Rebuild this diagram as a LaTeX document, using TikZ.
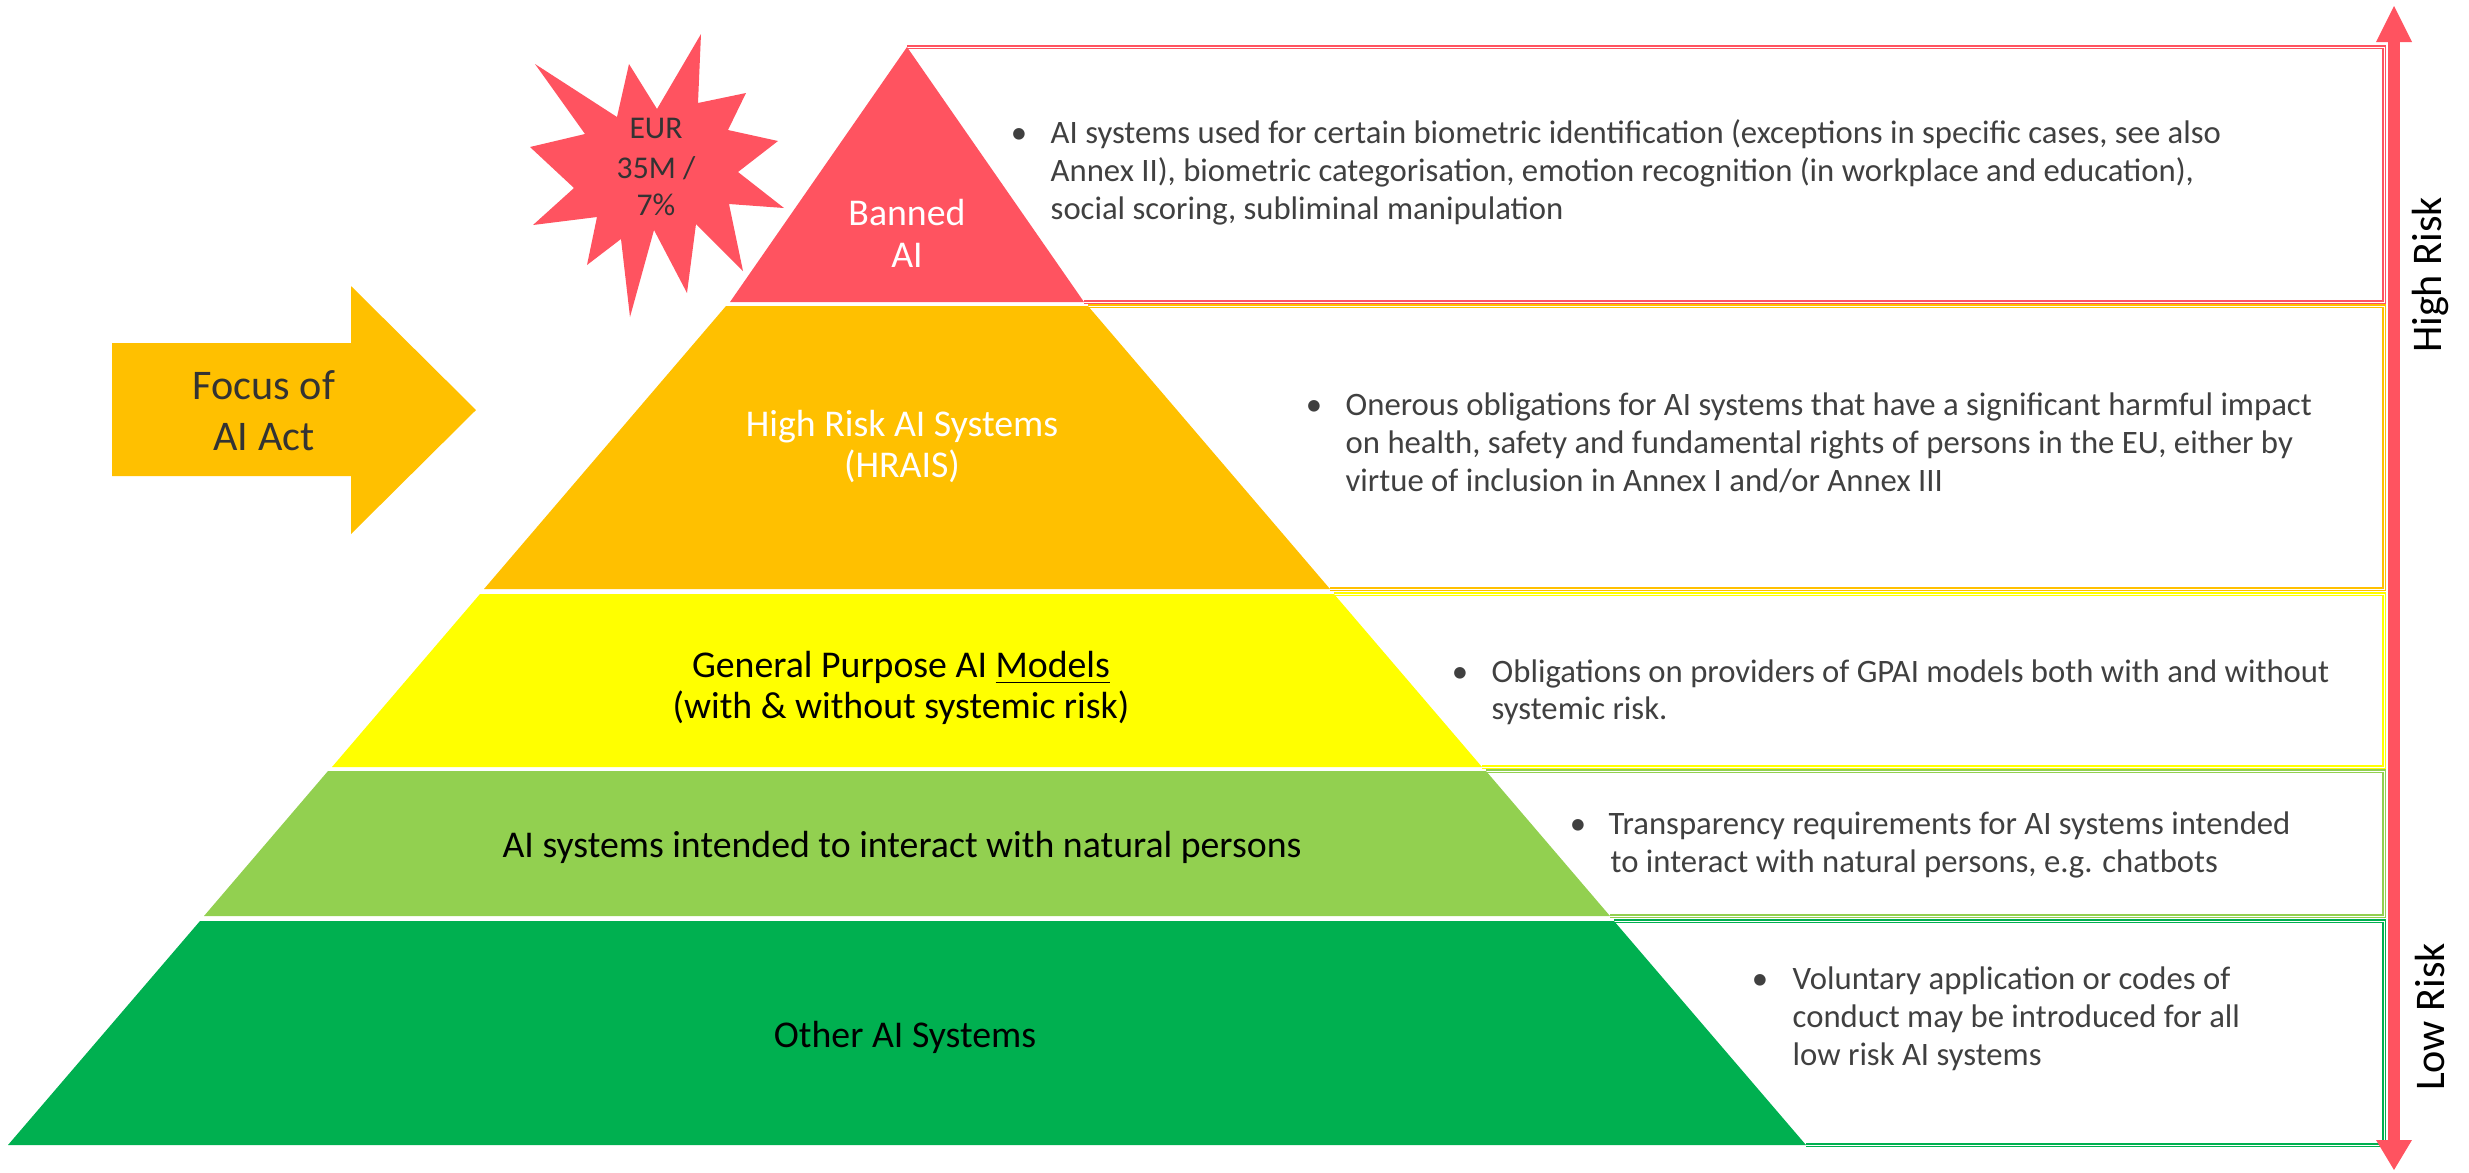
\documentclass[tikz,border=0pt]{standalone}
\usepackage{fontspec}
\setmainfont{Carlito}
\definecolor{tierred}{HTML}{FF5360}
\definecolor{tierorange}{HTML}{FFC000}
\definecolor{tieryellow}{HTML}{FFFF00}
\definecolor{tierlime}{HTML}{92D050}
\definecolor{tiergreen}{HTML}{00B050}
\definecolor{bodygray}{HTML}{404040}
\definecolor{darkink}{HTML}{333333}
\begin{document}
\begin{tikzpicture}[x=0.01cm,y=-0.01cm,
  tier/.style={fill=#1,draw=none},
  tierbox/.style={draw=#1,line width=0.45pt,double=white,double distance=0.15pt,line join=miter},
  bodytxt/.style={anchor=base west,inner sep=0pt,text=bodygray,font=\fontsize{9.3}{11}\selectfont},
  bullet/.style={anchor=base,inner sep=0pt,text=bodygray,font=\fontsize{9.3}{11}\selectfont},
  tierlabel/.style={anchor=base,inner sep=0pt,font=\fontsize{10.75}{12.9}\selectfont},
  bigtxt/.style={anchor=base,inner sep=0pt,font=\fontsize{12}{14}\selectfont},
  startxt/.style={anchor=base,inner sep=0pt,text=darkink,font=\fontsize{9}{11}\selectfont},
  risktxt/.style={inner sep=0pt,rotate=90,font=\fontsize{12}{14}\selectfont}]
\useasboundingbox (0,0) rectangle (2469,1172);

% pyramid corner points
\coordinate (apex) at (907,47);
\coordinate (rL) at (730,302);   \coordinate (rR) at (1084,302);
\coordinate (oTL) at (726,306);  \coordinate (oTR) at (1088,306);
\coordinate (oBL) at (484,589);  \coordinate (oBR) at (1330,589);
\coordinate (yTL) at (480,594);  \coordinate (yTR) at (1334,594);
\coordinate (yBL) at (332,767);  \coordinate (yBR) at (1482,767);
\coordinate (lTL) at (328,771);  \coordinate (lTR) at (1486,771);
\coordinate (lBL) at (204,916);  \coordinate (lBR) at (1610,916);
\coordinate (gTL) at (200,921);  \coordinate (gTR) at (1614,921);
\coordinate (gBL) at (8,1145);   \coordinate (gBR) at (1806,1145);
\coordinate (edgeR) at (2384,0);

% description boxes (open on the pyramid side)
\draw[tierbox=tierred] (rR) -- (edgeR |- rR) -- (edgeR |- apex) -- (apex);
\draw[tierbox=tierorange] (oBR) -- (edgeR |- oBR) -- (edgeR |- oTR) -- (oTR);
\draw[tierbox=tieryellow] (yBR) -- (edgeR |- yBR) -- (edgeR |- yTR) -- (yTR);
\draw[tierbox=tierlime] (lBR) -- (edgeR |- lBR) -- (edgeR |- lTR) -- (lTR);
\draw[tierbox=tiergreen] (gBR) -- (edgeR |- gBR) -- (edgeR |- gTR) -- (gTR);

% pyramid tiers
\fill[tier=tierred] (apex) -- (rR) -- (rL) -- cycle;
\fill[tier=tierorange] (oTL) -- (oTR) -- (oBR) -- (oBL) -- cycle;
\fill[tier=tieryellow] (yTL) -- (yTR) -- (yBR) -- (yBL) -- cycle;
\fill[tier=tierlime] (lTL) -- (lTR) -- (lBR) -- (lBL) -- cycle;
\fill[tier=tiergreen] (gTL) -- (gTR) -- (gBR) -- (gBL) -- cycle;

% tier labels
\node[tierlabel,text=white] (banned1) at (907,225) {Banned};
\node[tierlabel,text=white] (banned2) at (907,267) {AI};
\node[tierlabel,text=white] (hr1) at (902,436) {High Risk AI Systems};
\node[tierlabel,text=white] (hr2) at (902,477) {(HRAIS)};
\node[tierlabel,text=black] (gp1) at (901,677) {General Purpose AI \underline{Models}};
\node[tierlabel,text=black] (gp2) at (901,718) {(with \& without systemic risk)};
\node[tierlabel,text=black] (np) at (902,857) {AI systems intended to interact with natural persons};
\node[tierlabel,text=black] (other) at (905,1047) {Other AI Systems};

% bullet texts
\node[bullet] (rb) at (1019,143) {•};
\node[bodytxt] (r1) at (1050,143) {AI systems used for certain biometric identification (exceptions in specific cases, see also};
\node[bodytxt] (r2) at (1050,181) {Annex II), biometric categorisation, emotion recognition (in workplace and education),};
\node[bodytxt] (r3) at (1050,219) {social scoring, subliminal manipulation};

\node[bullet] (ob) at (1314,415) {•};
\node[bodytxt] (o1) at (1345,415) {Onerous obligations for AI systems that have a significant harmful impact};
\node[bodytxt] (o2) at (1345,453) {on health, safety and fundamental rights of persons in the EU, either by};
\node[bodytxt] (o3) at (1345,491) {virtue of inclusion in Annex I and/or Annex III};

\node[bullet] (yb) at (1460,682) {•};
\node[bodytxt] (y1) at (1491,682) {Obligations on providers of GPAI models both with and without};
\node[bodytxt] (y2) at (1491,719) {systemic risk.};

\node[bullet] (lb) at (1578,834) {•};
\node[bodytxt] (l1) at (1608,834) {Transparency requirements for AI systems intended};
\node[bodytxt] (l2) at (1610,872) {to interact with natural persons, e.g. chatbots};

\node[bullet] (gb) at (1760,989) {•};
\node[bodytxt] (g1) at (1792,989) {Voluntary application or codes of};
\node[bodytxt] (g2) at (1792,1027) {conduct may be introduced for all};
\node[bodytxt] (g3) at (1792,1065) {low risk AI systems};

% penalty burst
\fill[tierred] (701,34) -- (698,103) -- (746,93) -- (728,130) -- (778,141) -- (738,172)
  -- (784,208) -- (729,204) -- (743,271) -- (696,224) -- (687,293) -- (654,230)
  -- (630,317) -- (621,239) -- (587,265) -- (597,217) -- (533,225) -- (574,188)
  -- (530,147) -- (585,134) -- (535,64) -- (617,117) -- (629,64) -- (657,109) -- cycle;
\node[startxt] (eur1) at (656,138) {EUR};
\node[startxt] (eur2) at (656,178) {35M /};
\node[startxt] (eur3) at (656,215) {7\%};

% focus arrow
\fill[tierorange] (112,343) -- (351,343) -- (351,286) -- (476,410) -- (351,534) -- (351,476) -- (112,476) -- cycle;
\node[bigtxt,text=darkink] (focus1) at (264,399) {Focus of};
\node[bigtxt,text=darkink] (focus2) at (264,450) {AI Act};

% risk scale arrow
\fill[tierred] (2388,40) rectangle (2400,1142);
\fill[tierred] (2376,42) -- (2394,6) -- (2412,42) -- cycle;
\fill[tierred] (2376,1140) -- (2394,1170) -- (2412,1140) -- cycle;
\node[risktxt] (high) at (2430,275) {High Risk};
\node[risktxt] (low) at (2430,1017) {Low Risk};
\end{tikzpicture}
\end{document}
